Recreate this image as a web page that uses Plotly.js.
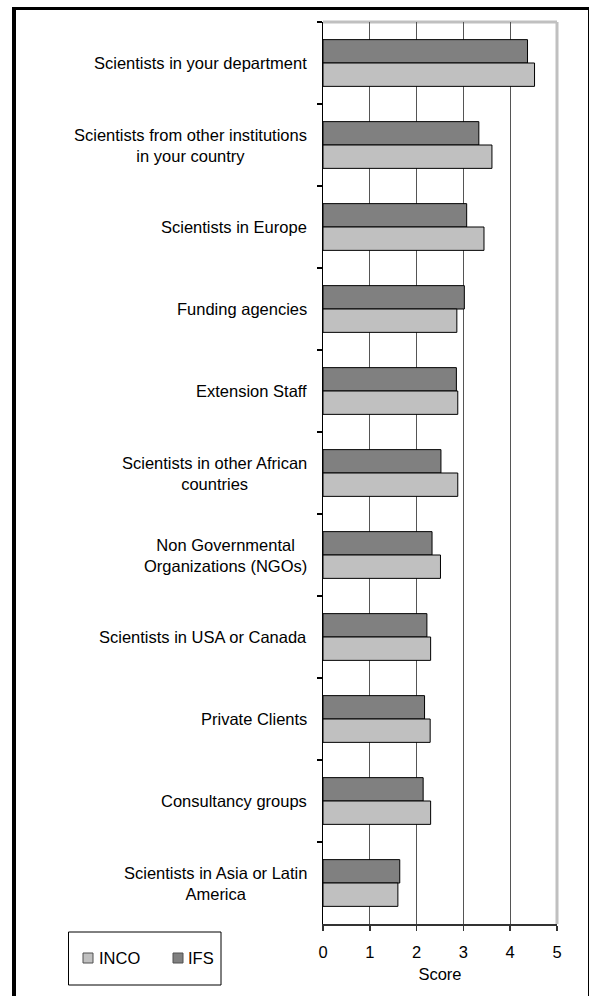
<!DOCTYPE html>
<html>
<head>
<meta charset="utf-8">
<script src="https://cdn.plot.ly/plotly-3.0.1.min.js"></script>
<style>
  html, body { margin: 0; padding: 0; background: #ffffff; overflow: hidden; }
  #wrap { position: relative; width: 589px; height: 996px; }
  #chart { position: absolute; left: 0; top: 0; width: 589px; height: 996px; }
  #frame {
    position: absolute; left: 12px; top: 7px; width: 572px; height: 1000px;
    border-left: 4px solid #000; border-top: 3px solid #000; border-right: 2px solid #000;
    pointer-events: none; box-sizing: content-box;
  }
</style>
</head>
<body>
<div id="wrap">
  <div id="chart"></div>
  <div id="frame"></div>
</div>
<script>
// ---- data ----
var categories = [
  "Scientists in your department",
  "Scientists from other institutions<br>in your country",
  "Scientists in Europe",
  "Funding agencies",
  "Extension Staff",
  "Scientists in other African<br>countries",
  "Non Governmental<br>Organizations (NGOs)",
  "Scientists in USA or Canada",
  "Private Clients",
  "Consultancy groups",
  "Scientists in Asia or Latin<br>America"
];
var ifsValues  = [4.37, 3.33, 3.07, 3.02, 2.85, 2.52, 2.33, 2.22, 2.17, 2.14, 1.64];
var incoValues = [4.52, 3.61, 3.44, 2.86, 2.88, 2.88, 2.51, 2.30, 2.29, 2.30, 1.60];
var seriesNames = ["INCO", "IFS"];
var xTickValues = [0, 1, 2, 3, 4, 5];
var xTitle = "Score";

// ---- styles ----
var colorINCO = "#c0c0c0";
var colorIFS = "#808080";
var fontFamily = "Arial, 'Liberation Sans', Helvetica, sans-serif";
var fontSize = 16.5;

// plot geometry (px)
var W = 589, H = 996;
var mL = 323, mR = 32, mT = 22, mB = 72;
var pw = W - mL - mR, ph = H - mT - mB;
function px2x(p) { return (p - mL) / pw; }
function py2y(p) { return 1 - (p - mT) / ph; }

var traces = [
  { type: "bar", orientation: "h", name: seriesNames[1], y: categories, x: ifsValues,
    marker: { color: colorIFS, line: { color: "#000000", width: 1 } }, showlegend: false },
  { type: "bar", orientation: "h", name: seriesNames[0], y: categories, x: incoValues,
    marker: { color: colorINCO, line: { color: "#000000", width: 1 } }, showlegend: false }
];

// category labels (centered multi-line, right-anchored at the axis)
var annotations = categories.map(function (c) {
  return { xref: "paper", yref: "y", x: 0, y: c, xanchor: "right", yanchor: "middle",
    xshift: -14, align: "center", showarrow: false, text: c,
    font: { family: fontFamily, size: fontSize, color: "#000000" } };
});

// legend (box, swatches, names)
var legendItems = [
  { name: seriesNames[0], color: colorINCO, sqX: 83, txtX: 97 },
  { name: seriesNames[1], color: colorIFS, sqX: 173, txtX: 186 }
];
var legendCy = 958;
var shapes = [];
legendItems.forEach(function (it) {
  shapes.push({ type: "rect", xref: "paper", yref: "paper",
    x0: px2x(it.sqX), x1: px2x(it.sqX + 10), y0: py2y(legendCy + 5), y1: py2y(legendCy - 5),
    fillcolor: it.color, line: { color: "#505050", width: 1 } });
  annotations.push({ xref: "paper", yref: "paper", x: px2x(it.txtX), y: py2y(legendCy),
    xanchor: "left", yanchor: "middle", showarrow: false, text: it.name,
    font: { family: fontFamily, size: fontSize, color: "#000000" } });
});
shapes.push({ type: "rect", xref: "paper", yref: "paper",
  x0: px2x(68.5), x1: px2x(221), y0: py2y(985), y1: py2y(932),
  fillcolor: "rgba(0,0,0,0)", line: { color: "#000000", width: 1 } });

// plot-area light-gray border (top and right)
shapes.push({ type: "line", xref: "paper", yref: "paper", x0: 0, x1: 1, y0: 1, y1: 1,
  line: { color: "#c0c0c0", width: 3 }, layer: "below" });
shapes.push({ type: "line", xref: "paper", yref: "paper", x0: 1, x1: 1, y0: 0, y1: 1,
  line: { color: "#c0c0c0", width: 3 }, layer: "below" });

var layout = {
  width: W, height: H,
  margin: { l: mL, r: mR, t: mT, b: mB, pad: 0 },
  paper_bgcolor: "#ffffff", plot_bgcolor: "#ffffff",
  barmode: "group", bargap: 0.43, bargroupgap: 0, showlegend: false,
  font: { family: fontFamily, size: fontSize, color: "#000000" },
  xaxis: { range: [0, 5], tickvals: xTickValues, ticktext: xTickValues.map(String),
    showgrid: true, gridcolor: "#555555", gridwidth: 1, zeroline: false,
    showline: true, linecolor: "#333333", linewidth: 1.5,
    ticks: "outside", ticklen: 5, tickcolor: "#333333", tickwidth: 1.5, ticklabelstandoff: 8,
    tickfont: { family: fontFamily, size: fontSize, color: "#000000" },
    title: { text: xTitle, font: { family: fontFamily, size: fontSize, color: "#000000" }, standoff: 8 },
    fixedrange: true },
  yaxis: { type: "category", autorange: "reversed", showticklabels: false, showgrid: false,
    zeroline: false, showline: true, linecolor: "#000000", linewidth: 1.5,
    ticks: "outside", ticklen: 5, tickcolor: "#000000", tickwidth: 1.5,
    tickson: "boundaries", fixedrange: true },
  shapes: shapes, annotations: annotations
};
Plotly.newPlot("chart", traces, layout, { displayModeBar: false, staticPlot: true });
</script>
</body>
</html>
